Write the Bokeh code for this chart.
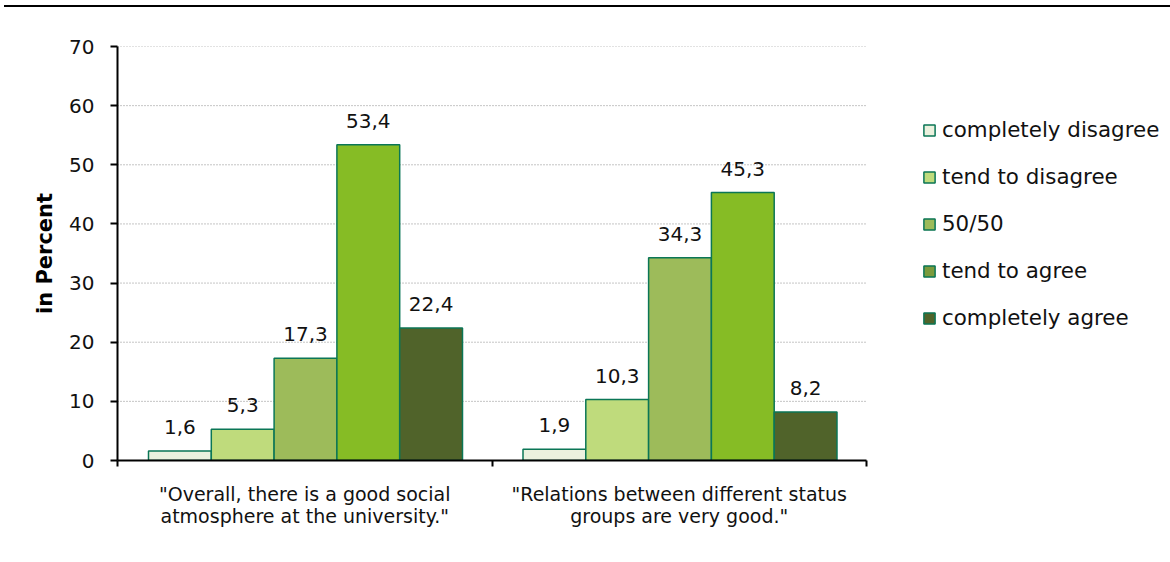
from bokeh.plotting import figure
from bokeh.models import Range1d, FixedTicker, ColumnDataSource, Legend, LegendItem
from bokeh.core.properties import value
from bokeh.embed import file_html
from bokeh.resources import INLINE

# ---- data ----
categories = ['"Overall, there is a good social\natmosphere at the university."',
              '"Relations between different status\ngroups are very good."']
responses = ["completely disagree", "tend to disagree", "50/50", "tend to agree", "completely agree"]
overall = [1.6, 5.3, 17.3, 53.4, 22.4]
relations = [1.9, 10.3, 34.3, 45.3, 8.2]
y_ticks = [0, 10, 20, 30, 40, 50, 60, 70]

bar_colors = ["#EBF1DE", "#BFDB7C", "#9DBB5A", "#86BC25", "#50632A"]
legend_colors = ["#EBF1DE", "#BFDB7C", "#9DBB5A", "#7A9A3C", "#50632A"]
edge = "#0B7656"
FONT = "DejaVu Sans"

# layout constants
W, H = 1166, 555
LEFT, TOP, BOTTOM = 113, 39, 102
CAT_PX = 374.5                      # pixel width of one category
group_pad = 31 / CAT_PX
bar_w = 62.8 / CAT_PX
n_cat = len(categories)
x_end = (W - LEFT) / CAT_PX         # frame runs to the right edge; legend lives inside it

p = figure(width=W, height=H, x_range=Range1d(0, x_end), y_range=Range1d(0, 70),
           output_backend="svg", toolbar_location=None,
           min_border_left=LEFT, min_border_right=0, min_border_top=TOP, min_border_bottom=BOTTOM)
p.outline_line_color = None
p.styles = {"border-top": "2px solid black", "margin-top": "5px", "margin-left": "4px"}
p.background_fill_color = "white"

# dotted gridlines limited to the category area
grid_src = ColumnDataSource(dict(y=y_ticks[1:], x0=[0] * (len(y_ticks) - 1), x1=[n_cat] * (len(y_ticks) - 1)))
p.segment(x0="x0", x1="x1", y0="y", y1="y", source=grid_src, line_color="#8A8A8A",
          line_dash="1 2", line_width=1, level="underlay")

values_by_cat = [overall, relations]
proxies = []
for i, resp in enumerate(responses):
    xs = [c + group_pad + bar_w * (i + 0.5) for c in range(n_cat)]
    tops = [values_by_cat[c][i] for c in range(n_cat)]
    labels = [f"{v:.1f}".replace(".", ",") for v in tops]
    src = ColumnDataSource(dict(x=xs, top=tops, label=labels))
    p.vbar(x="x", top="top", width=bar_w, bottom=0, source=src,
           fill_color=bar_colors[i], line_color=edge, line_width=1.5)
    p.text(x="x", y="top", text="label", source=src, text_align="center",
           text_baseline="alphabetic", y_offset=-24,
           text_font=value(FONT), text_font_size="20px", text_color="#111111")
    proxies.append(p.vbar(x="x", top="top", width=bar_w, source=src, fill_color=legend_colors[i],
                          line_color=edge, line_width=1.5, visible=False))

# y axis
p.yaxis.ticker = FixedTicker(ticks=y_ticks)
p.yaxis.axis_label = "in Percent"
p.yaxis.axis_label_text_font = FONT
p.yaxis.axis_label_text_font_style = "bold"
p.yaxis.axis_label_text_font_size = "21px"
p.yaxis.axis_label_text_color = "black"
p.yaxis.axis_label_standoff = 9
p.yaxis.major_label_text_font = FONT
p.yaxis.major_label_text_font_size = "20px"
p.yaxis.major_label_text_color = "#111111"
p.yaxis.major_label_standoff = 16
p.yaxis.major_tick_out = 7
p.yaxis.major_tick_in = 0
p.yaxis.major_tick_line_width = 2
p.yaxis.major_tick_line_color = "black"
p.yaxis.minor_tick_line_color = None
p.yaxis.axis_line_width = 2
p.yaxis.axis_line_color = "black"

# x axis
p.xaxis.bounds = (0, n_cat)
p.xaxis.ticker = FixedTicker(ticks=[0.5, 1.5], minor_ticks=[0, 1, 2])
p.xaxis.major_label_overrides = {0.5: categories[0], 1.5: categories[1]}
p.xaxis.major_tick_line_color = None
p.xaxis.major_tick_out = 0
p.xaxis.major_tick_in = 0
p.xaxis.minor_tick_line_color = "black"
p.xaxis.minor_tick_line_width = 2
p.xaxis.minor_tick_out = 6
p.xaxis.minor_tick_in = 0
p.xaxis.axis_line_width = 2
p.xaxis.axis_line_color = "black"
p.xaxis.major_label_text_font = FONT
p.xaxis.major_label_text_font_size = "19px"
p.xaxis.major_label_text_line_height = 1.0
p.xaxis.major_label_text_color = "#111111"
p.xaxis.major_label_standoff = 16

p.xgrid.visible = False
p.ygrid.visible = False

legend = Legend(items=[LegendItem(label=r, renderers=[proxies[i]]) for i, r in enumerate(responses)],
                location=(805, 130), padding=0, margin=0, spacing=22,
                glyph_width=14, glyph_height=14, label_standoff=6, label_height=20,
                border_line_color=None, background_fill_alpha=0,
                label_text_font=FONT, label_text_font_size="21.4px", label_text_color="#111111")
p.add_layout(legend)

open("out.html", "w").write(file_html(p, INLINE))
